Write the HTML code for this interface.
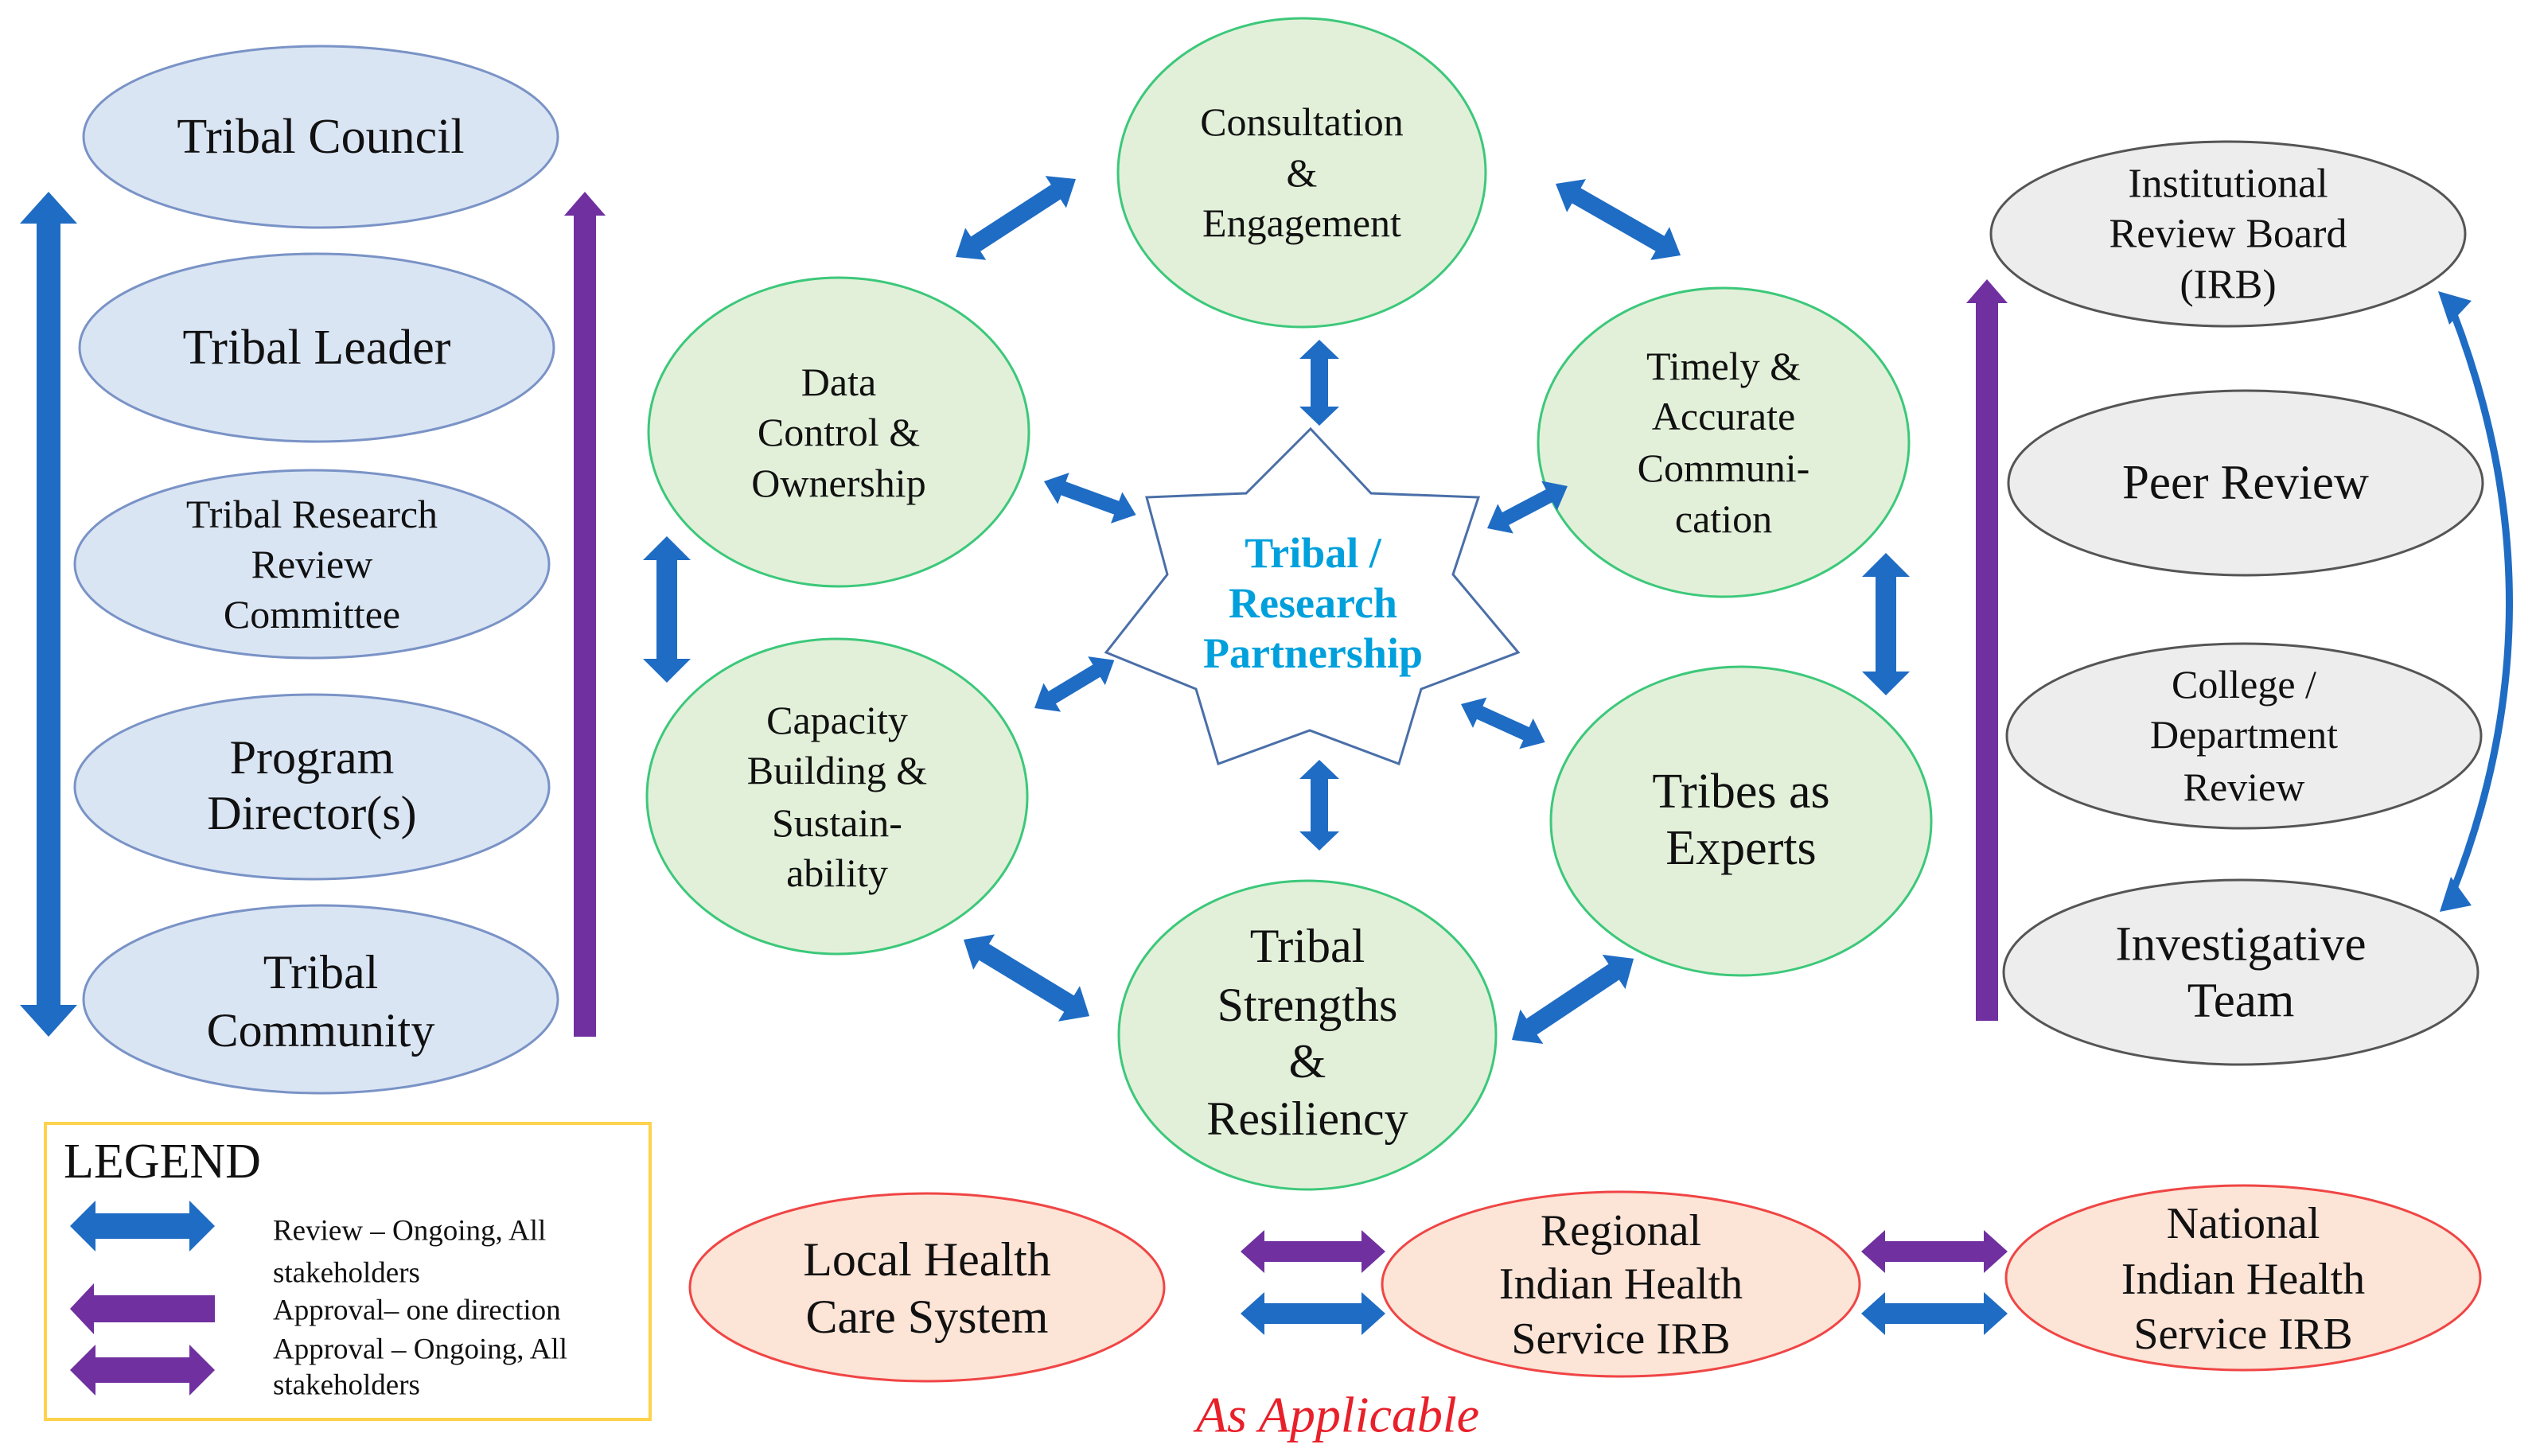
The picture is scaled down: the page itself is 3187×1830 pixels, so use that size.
<!DOCTYPE html>
<html><head><meta charset="utf-8"><style>html,body{margin:0;padding:0;background:#fff}svg{display:block}</style></head>
<body>
<svg width="3187" height="1830" viewBox="0 0 3187 1830" xmlns="http://www.w3.org/2000/svg" font-family="'Liberation Serif', serif">
<style>
.b{fill:#1f6cc4}.p{fill:#7030a0}
.t{text-anchor:middle;dominant-baseline:central;fill:#111}
</style>

<!-- Left ellipses -->
<g fill="#dae5f4" stroke="#7a93c6" stroke-width="3">
<ellipse cx="403" cy="172" rx="298" ry="114"/>
<ellipse cx="398" cy="437" rx="298" ry="118"/>
<ellipse cx="392" cy="709" rx="298" ry="118"/>
<ellipse cx="392" cy="989" rx="298" ry="116"/>
<ellipse cx="403" cy="1256" rx="298" ry="118"/>
</g>
<text class="t" x="403" y="172" font-size="62">Tribal Council</text>
<text class="t" x="398" y="437" font-size="62">Tribal Leader</text>
<text class="t" x="392" y="646" font-size="50">Tribal Research</text>
<text class="t" x="392" y="709" font-size="50">Review</text>
<text class="t" x="392" y="772" font-size="50">Committee</text>
<text class="t" x="392" y="952" font-size="60">Program</text>
<text class="t" x="392" y="1022" font-size="60">Director(s)</text>
<text class="t" x="403" y="1222" font-size="60">Tribal</text>
<text class="t" x="403" y="1295" font-size="60">Community</text>

<!-- Left vertical arrows -->
<polygon class="b" transform="translate(61,241) rotate(90)" points="0,0 40,-36 40,-15 1022,-15 1022,-36 1062,0 1022,36 1022,15 40,15 40,36"/>
<polygon class="p" transform="translate(735,241) rotate(90)" points="0,0 30,-26 30,-14 1062,-14 1062,14 30,14 30,26"/>

<!-- Green ellipses -->
<g fill="#e2f0d9" stroke="#3cc87a" stroke-width="3">
<ellipse cx="1636" cy="217" rx="231" ry="194"/>
<ellipse cx="1054" cy="543" rx="239" ry="194"/>
<ellipse cx="2166" cy="556" rx="233" ry="194"/>
<ellipse cx="1052" cy="1001" rx="239" ry="198"/>
<ellipse cx="2188" cy="1032" rx="239" ry="194"/>
<ellipse cx="1643" cy="1301" rx="237" ry="194"/>
</g>
<text class="t" x="1636" y="153" font-size="50">Consultation</text>
<text class="t" x="1636" y="217" font-size="50">&amp;</text>
<text class="t" x="1636" y="280" font-size="50">Engagement</text>
<text class="t" x="1054" y="480" font-size="50">Data</text>
<text class="t" x="1054" y="543" font-size="50">Control &amp;</text>
<text class="t" x="1054" y="607" font-size="50">Ownership</text>
<text class="t" x="2166" y="460" font-size="50">Timely &amp;</text>
<text class="t" x="2166" y="523" font-size="50">Accurate</text>
<text class="t" x="2166" y="588" font-size="50">Communi-</text>
<text class="t" x="2166" y="652" font-size="50">cation</text>
<text class="t" x="1052" y="905" font-size="50">Capacity</text>
<text class="t" x="1052" y="968" font-size="50">Building &amp;</text>
<text class="t" x="1052" y="1034" font-size="50">Sustain-</text>
<text class="t" x="1052" y="1097" font-size="50">ability</text>
<text class="t" x="2188" y="995" font-size="62">Tribes as</text>
<text class="t" x="2188" y="1066" font-size="62">Experts</text>
<text class="t" x="1643" y="1189" font-size="60">Tribal</text>
<text class="t" x="1643" y="1263" font-size="60">Strengths</text>
<text class="t" x="1643" y="1334" font-size="60">&amp;</text>
<text class="t" x="1643" y="1406" font-size="60">Resiliency</text>

<!-- Star -->
<polygon fill="#fff" stroke="#4a6fa8" stroke-width="3" points="1647,539 1723,620 1858,625 1826,722 1908,820 1786,866 1758,960 1646,918 1531,960 1503,866 1390,820 1467,722 1441,625 1566,620"/>
<g font-weight="bold" fill="#00a0dc" font-size="54" text-anchor="middle" dominant-baseline="central">
<text x="1650" y="695">Tribal /</text>
<text x="1650" y="758">Research</text>
<text x="1650" y="821">Partnership</text>
</g>

<!-- Center arrows -->
<g class="b">
<polygon transform="translate(1201,323) rotate(-33)" points="0,0 30,-24 30,-11 150,-11 150,-24 180,0 150,24 150,11 30,11 30,24"/>
<polygon transform="translate(1955,231) rotate(29.8)" points="0,0 30,-24 30,-11 151,-11 151,-24 181,0 151,24 151,11 30,11 30,24"/>
<polygon transform="translate(1658,427) rotate(90)" points="0,0 24,-25 24,-11 84,-11 84,-25 108,0 84,25 84,11 24,11 24,25"/>
<polygon transform="translate(1312,605) rotate(20)" points="0,0 26,-21 26,-9 97,-9 97,-21 123,0 97,21 97,9 26,9 26,21"/>
<polygon transform="translate(1869,664) rotate(-27.7)" points="0,0 26,-21 26,-9 88,-9 88,-21 114,0 88,21 88,9 26,9 26,21"/>
<polygon transform="translate(1300,890) rotate(-31)" points="0,0 26,-21 26,-9 91,-9 91,-21 117,0 91,21 91,9 26,9 26,21"/>
<polygon transform="translate(1836,885) rotate(24.4)" points="0,0 26,-21 26,-9 90,-9 90,-21 116,0 90,21 90,9 26,9 26,21"/>
<polygon transform="translate(1658,955) rotate(90)" points="0,0 24,-25 24,-11 90,-11 90,-25 114,0 90,25 90,11 24,11 24,25"/>
<polygon transform="translate(838,674) rotate(90)" points="0,0 30,-30 30,-13 154,-13 154,-30 184,0 154,30 154,13 30,13 30,30"/>
<polygon transform="translate(2370,695) rotate(90)" points="0,0 30,-30 30,-13 149,-13 149,-30 179,0 149,30 149,13 30,13 30,30"/>
<polygon transform="translate(1211,1181) rotate(31.3)" points="0,0 30,-26 30,-12 155,-12 155,-26 185,0 155,26 155,12 30,12 30,26"/>
<polygon transform="translate(1900,1307) rotate(-33.7)" points="0,0 30,-26 30,-12 154,-12 154,-26 184,0 154,26 154,12 30,12 30,26"/>
</g>

<!-- Right grey ellipses -->
<g fill="#ededed" stroke="#555" stroke-width="3">
<ellipse cx="2800" cy="294" rx="298" ry="116"/>
<ellipse cx="2822" cy="607" rx="298" ry="116"/>
<ellipse cx="2820" cy="925" rx="298" ry="116"/>
<ellipse cx="2816" cy="1222" rx="298" ry="116"/>
</g>
<text class="t" x="2800" y="231" font-size="52">Institutional</text>
<text class="t" x="2800" y="294" font-size="52">Review Board</text>
<text class="t" x="2800" y="358" font-size="52">(IRB)</text>
<text class="t" x="2822" y="607" font-size="61">Peer Review</text>
<text class="t" x="2820" y="860" font-size="50">College /</text>
<text class="t" x="2820" y="923" font-size="50">Department</text>
<text class="t" x="2820" y="989" font-size="50">Review</text>
<text class="t" x="2816" y="1187" font-size="61">Investigative</text>
<text class="t" x="2816" y="1258" font-size="61">Team</text>

<polygon class="p" transform="translate(2497,351) rotate(90)" points="0,0 30,-26 30,-14 932,-14 932,14 30,14 30,26"/>
<path d="M3082,390 Q3225,760 3082,1122" fill="none" stroke="#1f6cc4" stroke-width="9"/>
<polygon class="b" points="3064,366 3106,378 3078,408"/>
<polygon class="b" points="3066,1146 3106,1138 3080,1102"/>

<!-- Red ellipses -->
<g fill="#fce4d6" stroke="#f04545" stroke-width="3">
<ellipse cx="1165" cy="1618" rx="298" ry="118"/>
<ellipse cx="2037" cy="1614" rx="300" ry="116"/>
<ellipse cx="2819" cy="1606" rx="298" ry="116"/>
</g>
<text class="t" x="1165" y="1583" font-size="60">Local Health</text>
<text class="t" x="1165" y="1655" font-size="60">Care System</text>
<text class="t" x="2037" y="1547" font-size="56">Regional</text>
<text class="t" x="2037" y="1614" font-size="56">Indian Health</text>
<text class="t" x="2037" y="1683" font-size="56">Service IRB</text>
<text class="t" x="2819" y="1538" font-size="56">National</text>
<text class="t" x="2819" y="1608" font-size="56">Indian Health</text>
<text class="t" x="2819" y="1677" font-size="56">Service IRB</text>

<polygon class="p" transform="translate(1559,1573)" points="0,0 30,-27 30,-13 152,-13 152,-27 182,0 152,27 152,13 30,13 30,27"/>
<polygon class="b" transform="translate(1559,1651)" points="0,0 30,-27 30,-13 152,-13 152,-27 182,0 152,27 152,13 30,13 30,27"/>
<polygon class="p" transform="translate(2339,1573)" points="0,0 30,-27 30,-13 154,-13 154,-27 184,0 154,27 154,13 30,13 30,27"/>
<polygon class="b" transform="translate(2339,1651)" points="0,0 30,-27 30,-13 154,-13 154,-27 184,0 154,27 154,13 30,13 30,27"/>

<text x="1681" y="1778" font-size="64" font-style="italic" fill="#e8202a" text-anchor="middle" dominant-baseline="central">As Applicable</text>

<!-- Legend -->
<rect x="57" y="1412" width="760" height="372" fill="#fff" stroke="#ffd24d" stroke-width="4"/>
<text x="80" y="1480" font-size="62" fill="#111">LEGEND</text>
<polygon class="b" transform="translate(88,1541)" points="0,0 32,-32 32,-16 150,-16 150,-32 182,0 150,32 150,16 32,16 32,32"/>
<polygon class="p" transform="translate(88,1645)" points="0,0 30,-32 30,-17 182,-17 182,17 30,17 30,32"/>
<polygon class="p" transform="translate(88,1722)" points="0,0 32,-32 32,-16 150,-16 150,-32 182,0 150,32 150,16 32,16 32,32"/>
<g font-size="37" fill="#111" dominant-baseline="central">
<text x="343" y="1547">Review – Ongoing, All</text>
<text x="343" y="1600">stakeholders</text>
<text x="343" y="1647">Approval– one direction</text>
<text x="343" y="1696">Approval – Ongoing, All</text>
<text x="343" y="1741">stakeholders</text>
</g>
</svg>
</body></html>
